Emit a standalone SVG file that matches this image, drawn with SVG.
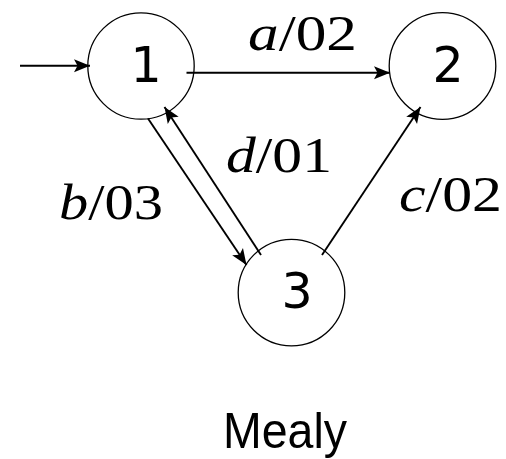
<svg xmlns="http://www.w3.org/2000/svg" width="506" height="459" viewBox="0 0 506 459">
<style>
.node circle{fill:none;stroke:#000;stroke-width:1.3}
.num{font-family:"DejaVu Sans","Liberation Sans",sans-serif;font-size:49px;text-anchor:middle;fill:#000}
.edge{stroke:#000;stroke-width:1.9;fill:none;marker-end:url(#arr)}
.lbl{font-family:"Liberation Serif","DejaVu Serif",serif;font-size:50px;fill:#000}
.lbl .v{font-style:italic}
.title{font-family:"Liberation Sans","DejaVu Sans",sans-serif;font-size:50px;fill:#000}
</style>
<defs>
<marker id="arr" markerUnits="userSpaceOnUse" markerWidth="20" markerHeight="16" viewBox="-18 -8 20 16" refX="0" refY="0" orient="auto">
<path d="M0,0 L-16,-6.5 L-12.5,0 L-16,6.5 Z" fill="#000"/>
</marker>
</defs>
<g id="connectors">
<line class="edge" x1="20" y1="65.7" x2="90" y2="65.7"/>
<line class="edge" x1="186.5" y1="72.7" x2="390" y2="72.7"/>
<line class="edge" x1="148" y1="118.5" x2="246.5" y2="265"/>
<line class="edge" x1="261" y1="255" x2="164.5" y2="107"/>
<line class="edge" x1="322" y1="255" x2="420.5" y2="107"/>
</g>
<g id="labels">
<text class="lbl" x="248" y="50" textLength="109" lengthAdjust="spacingAndGlyphs"><tspan class="v">a</tspan>/02</text>
<text class="lbl" x="226" y="172" textLength="106" lengthAdjust="spacingAndGlyphs"><tspan class="v">d</tspan>/01</text>
<text class="lbl" x="59" y="219" textLength="104" lengthAdjust="spacingAndGlyphs"><tspan class="v">b</tspan>/03</text>
<text class="lbl" x="399" y="211" textLength="103" lengthAdjust="spacingAndGlyphs"><tspan class="v">c</tspan>/02</text>
</g>
<g id="node1" class="node">
<circle cx="141" cy="66" r="53.2"/>
<text class="num" x="146" y="81.7">1</text>
</g>
<g id="node2" class="node">
<circle cx="442.5" cy="66" r="53.3"/>
<text class="num" x="448" y="81.7">2</text>
</g>
<g id="node3" class="node">
<circle cx="291.5" cy="292.6" r="53.3"/>
<text class="num" x="297" y="307.7">3</text>
</g>
<text class="title" x="223" y="448" textLength="124" lengthAdjust="spacingAndGlyphs">Mealy</text>
</svg>
